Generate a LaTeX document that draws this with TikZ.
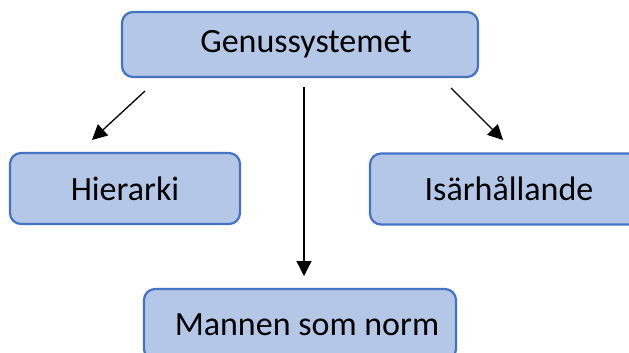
\documentclass[tikz,border=0pt]{standalone}
\usepackage{fontspec}
\setmainfont{Carlito}
\usetikzlibrary{arrows.meta}
\definecolor{boxfill}{HTML}{B4C7E7}
\definecolor{boxline}{HTML}{4472C4}
\begin{document}
\begin{tikzpicture}[x=1pt,y=-1pt,
  conceptbox/.style={draw=boxline,fill=boxfill,line width=2.2pt,rounded corners=11pt,
    inner sep=0pt,font=\fontsize{34}{40}\selectfont,text=black},
  link/.style={line width=1.3pt,-{Triangle[length=15pt,width=15pt]}}]
\useasboundingbox (0,0) rectangle (629,353);
\clip (0,0) rectangle (629,353);
\node[conceptbox,minimum width=356pt,minimum height=65pt] (top) at (300,44.5) {\hspace*{12pt}Genussystemet};
\node[conceptbox,minimum width=230pt,minimum height=71pt] (hier) at (125,188.5) {Hierarki};
\node[conceptbox,minimum width=278pt,minimum height=71pt] (isar) at (509,189) {Isärhållande};
\node[conceptbox,minimum width=312pt,minimum height=71pt] (mann) at (300,324.5) {\hspace*{14pt}Mannen som norm};
\coordinate (lstart) at (145,91);
\coordinate (lend) at (92,140);
\coordinate (cstart) at (304,87);
\coordinate (cend) at (304,276);
\coordinate (rstart) at (451,88);
\coordinate (rend) at (503,140);
\draw[link] (lstart) -- (lend);
\draw[link] (cstart) -- (cend);
\draw[link] (rstart) -- (rend);
\end{tikzpicture}
\end{document}
